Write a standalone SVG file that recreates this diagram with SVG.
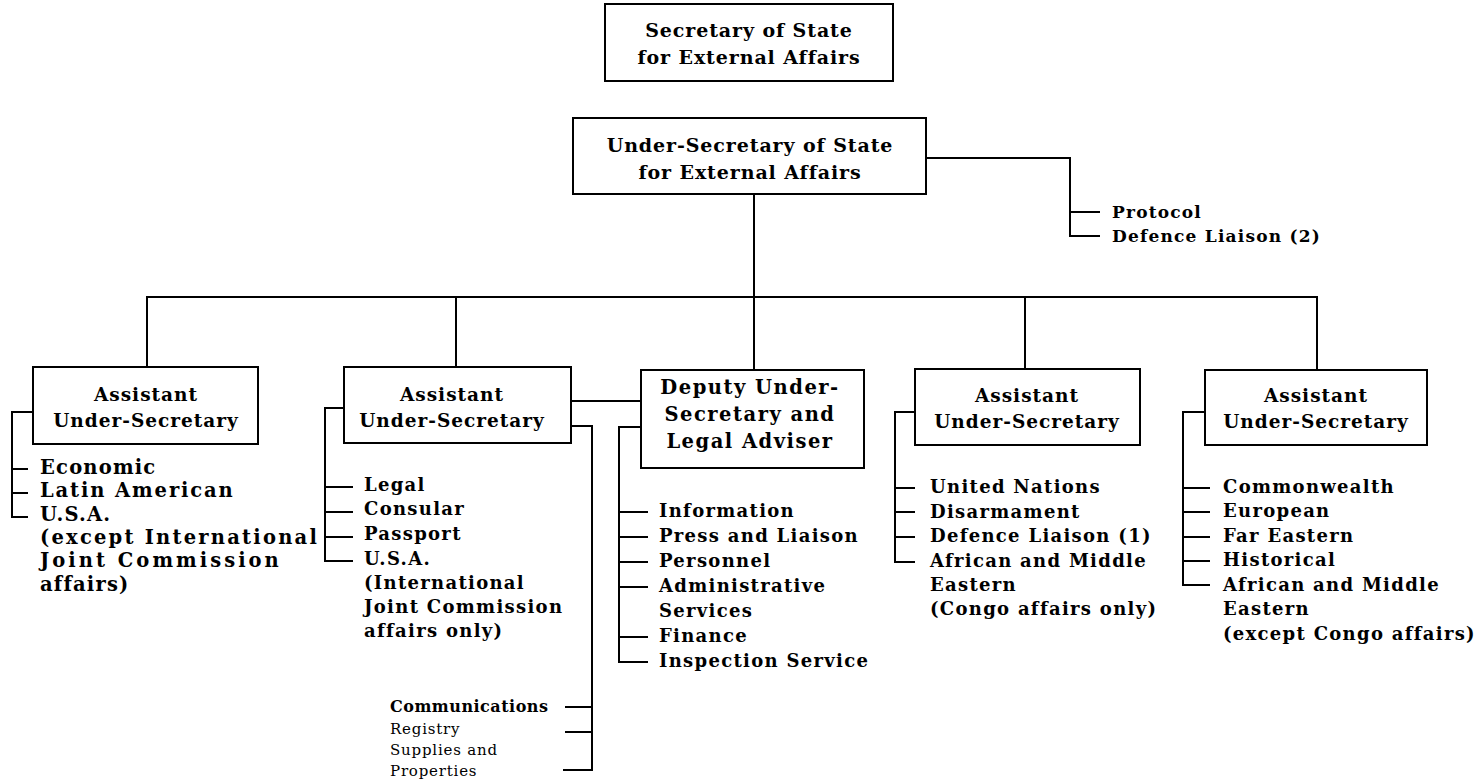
<svg xmlns="http://www.w3.org/2000/svg" width="1484" height="781" viewBox="0 0 1484 781">
<style>
.box{fill:#fff;stroke:#000;stroke-width:2}
.ln{fill:none;stroke:#000;stroke-width:2}
text{font-family:"DejaVu Serif","Liberation Serif",serif;font-weight:bold;fill:#000}
.t{font-size:18px;letter-spacing:1.3px}
.t1{font-size:19.5px;letter-spacing:1.2px}
.p{font-size:17px;letter-spacing:1.2px}
.h{font-size:18.5px;letter-spacing:1px;text-anchor:middle}
.hd{font-size:19.5px;letter-spacing:1.5px;text-anchor:middle}
.hh{font-size:19px;letter-spacing:0.9px;text-anchor:middle}
.s{font-size:16px;letter-spacing:0.5px}
.lt{font-size:15px;font-weight:normal;letter-spacing:0.8px}
</style>
<rect width="1484" height="781" fill="#fff"/>
<g id="connectors">
  <polyline class="ln" points="926,158 1070,158 1070,236 1100,236"/>
  <line class="ln" x1="1070" y1="212" x2="1100" y2="212"/>
  <line class="ln" x1="754" y1="194" x2="754" y2="370"/>
  <polyline class="ln" points="147,367 147,297 1317,297 1317,370"/>
  <line class="ln" x1="456" y1="297" x2="456" y2="367"/>
  <line class="ln" x1="1025" y1="297" x2="1025" y2="369"/>
  <polyline class="ln" points="33,412 12,412 12,517 28,517"/>
  <line class="ln" x1="12" y1="469" x2="28" y2="469"/>
  <line class="ln" x1="12" y1="493" x2="28" y2="493"/>
  <polyline class="ln" points="344,408 325,408 325,561 353,561"/>
  <line class="ln" x1="325" y1="487" x2="353" y2="487"/>
  <line class="ln" x1="325" y1="512" x2="353" y2="512"/>
  <line class="ln" x1="325" y1="537" x2="353" y2="537"/>
  <line class="ln" x1="571" y1="401" x2="641" y2="401"/>
  <polyline class="ln" points="571,401 554,401 554,426 571,426"/>
  <polyline class="ln" points="571,426 592,426 592,770 563,770"/>
  <line class="ln" x1="565" y1="707" x2="592" y2="707"/>
  <line class="ln" x1="565" y1="732" x2="592" y2="732"/>
  <polyline class="ln" points="641,427 619,427 619,662 648,662"/>
  <line class="ln" x1="619" y1="512" x2="648" y2="512"/>
  <line class="ln" x1="619" y1="537" x2="648" y2="537"/>
  <line class="ln" x1="619" y1="562" x2="648" y2="562"/>
  <line class="ln" x1="619" y1="587" x2="648" y2="587"/>
  <line class="ln" x1="619" y1="637" x2="648" y2="637"/>
  <polyline class="ln" points="915,412 895,412 895,562 915,562"/>
  <line class="ln" x1="895" y1="488" x2="915" y2="488"/>
  <line class="ln" x1="895" y1="512" x2="915" y2="512"/>
  <line class="ln" x1="895" y1="537" x2="915" y2="537"/>
  <polyline class="ln" points="1205,412 1183,412 1183,585 1210,585"/>
  <line class="ln" x1="1183" y1="488" x2="1210" y2="488"/>
  <line class="ln" x1="1183" y1="512" x2="1210" y2="512"/>
  <line class="ln" x1="1183" y1="537" x2="1210" y2="537"/>
  <line class="ln" x1="1183" y1="561" x2="1210" y2="561"/>
</g>
<g id="secretary">
  <rect class="box" x="605" y="4" width="288" height="77"/>
  <text class="hh" x="749" y="37">Secretary of State</text>
  <text class="hh" x="749" y="64">for External Affairs</text>
</g>
<g id="under-secretary">
  <rect class="box" x="573" y="118" width="353" height="76"/>
  <text class="hh" x="750" y="152">Under-Secretary of State</text>
  <text class="hh" x="750" y="179">for External Affairs</text>
</g>
<g id="protocol">
  <text class="p" x="1112" y="218">Protocol</text>
  <text class="p" x="1112" y="242">Defence Liaison (2)</text>
</g>
<g id="aus1">
  <rect class="box" x="33" y="367" width="225" height="77"/>
  <text class="h" x="146" y="401">Assistant</text>
  <text class="h" x="146" y="427">Under-Secretary</text>
  <text class="t1" x="40" y="474">Economic</text>
  <text class="t1" x="40" y="497" textLength="194" lengthAdjust="spacing">Latin American</text>
  <text class="t1" x="40" y="521">U.S.A.</text>
  <text class="t1" x="40" y="544" textLength="278" lengthAdjust="spacing">(except International</text>
  <text class="t1" x="40" y="567" textLength="240" lengthAdjust="spacing">Joint Commission</text>
  <text class="t1" x="40" y="591">affairs)</text>
</g>
<g id="aus2">
  <rect class="box" x="344" y="367" width="227" height="76"/>
  <text class="h" x="452" y="401">Assistant</text>
  <text class="h" x="452" y="427">Under-Secretary</text>
  <text class="t" x="364" y="491">Legal</text>
  <text class="t" x="364" y="515">Consular</text>
  <text class="t" x="364" y="540">Passport</text>
  <text class="t" x="364" y="565">U.S.A.</text>
  <text class="t" x="364" y="589">(International</text>
  <text class="t" x="364" y="613">Joint Commission</text>
  <text class="t" x="364" y="637">affairs only)</text>
</g>
<g id="communications">
  <text class="s" x="390" y="712">Communications</text>
  <text class="lt" x="390" y="734">Registry</text>
  <text class="lt" x="390" y="755">Supplies and</text>
  <text class="lt" x="390" y="776">Properties</text>
</g>
<g id="deputy">
  <rect class="box" x="641" y="370" width="223" height="98"/>
  <text class="hd" x="750" y="394">Deputy Under-</text>
  <text class="hd" x="750" y="421">Secretary and</text>
  <text class="hd" x="750" y="448">Legal Adviser</text>
  <text class="t" x="659" y="517">Information</text>
  <text class="t" x="659" y="542">Press and Liaison</text>
  <text class="t" x="659" y="567">Personnel</text>
  <text class="t" x="659" y="592">Administrative</text>
  <text class="t" x="659" y="617">Services</text>
  <text class="t" x="659" y="642">Finance</text>
  <text class="t" x="659" y="667">Inspection Service</text>
</g>
<g id="aus4">
  <rect class="box" x="915" y="369" width="225" height="76"/>
  <text class="h" x="1027" y="402">Assistant</text>
  <text class="h" x="1027" y="428">Under-Secretary</text>
  <text class="t" x="930" y="493">United Nations</text>
  <text class="t" x="930" y="518">Disarmament</text>
  <text class="t" x="930" y="542">Defence Liaison (1)</text>
  <text class="t" x="930" y="567">African and Middle</text>
  <text class="t" x="930" y="591">Eastern</text>
  <text class="t" x="930" y="615">(Congo affairs only)</text>
</g>
<g id="aus5">
  <rect class="box" x="1205" y="370" width="222" height="75"/>
  <text class="h" x="1316" y="402">Assistant</text>
  <text class="h" x="1316" y="428">Under-Secretary</text>
  <text class="t" x="1223" y="493">Commonwealth</text>
  <text class="t" x="1223" y="517">European</text>
  <text class="t" x="1223" y="542">Far Eastern</text>
  <text class="t" x="1223" y="566">Historical</text>
  <text class="t" x="1223" y="591">African and Middle</text>
  <text class="t" x="1223" y="615">Eastern</text>
  <text class="t" x="1223" y="640">(except Congo affairs)</text>
</g>
</svg>
